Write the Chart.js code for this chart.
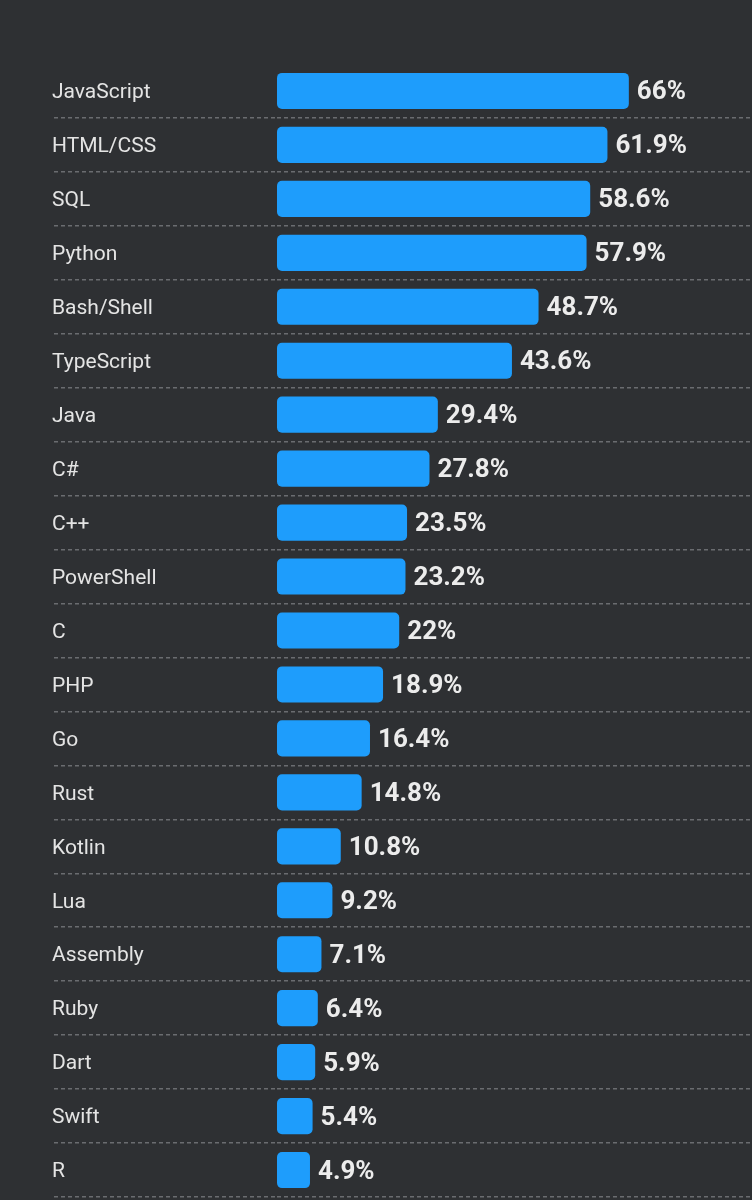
<!DOCTYPE html>
<html>
<head>
<meta charset="utf-8">
<script src="https://cdn.jsdelivr.net/npm/chart.js@4"></script>
<style>
  html, body { margin: 0; padding: 0; background: #2e3033; }
  #wrap { width: 752px; height: 1200px; position: relative; }
</style>
</head>
<body>
<div id="wrap"><canvas id="langChart"></canvas></div>
<script>
// Dữ liệu: ngôn ngữ và tỷ lệ sử dụng (%)
const languages = ['JavaScript', 'HTML/CSS', 'SQL', 'Python', 'Bash/Shell', 'TypeScript', 'Java', 'C#', 'C++',
    'PowerShell', 'C', 'PHP', 'Go', 'Rust', 'Kotlin', 'Lua', 'Assembly', 'Ruby', 'Dart', 'Swift', 'R'];
const shares = [66, 61.9, 58.6, 57.9, 48.7, 43.6, 29.4, 27.8, 23.5, 23.2, 22, 18.9, 16.4, 14.8, 10.8, 9.2, 7.1, 6.4, 5.9, 5.4, 4.9];

const barColor = '#1e9dfc';
const dashColor = '#6a6c70';
const axisMin = -1.42;   // thanh bắt đầu hơi trước 0 (như ảnh gốc)
const axisMax = 89.6;

// Plugin vẽ giá trị ở cuối mỗi thanh
const valueLabels = {
    id: 'valueLabels',
    afterDatasetsDraw(chart) {
        const ctx = chart.ctx;
        const meta = chart.getDatasetMeta(0);
        ctx.save();
        ctx.font = 'bold 26px Roboto';
        ctx.fillStyle = '#ececec';
        ctx.textAlign = 'left';
        ctx.textBaseline = 'middle';
        meta.data.forEach((bar, i) => {
            ctx.fillText(shares[i] + '%', bar.x + 8, bar.y + 2);
        });
        ctx.restore();
    }
};

const gridColor = (c) => c.index === 0 ? 'rgba(0,0,0,0)' : dashColor;

const chart = new Chart(document.getElementById('langChart').getContext('2d'), {
    type: 'bar',
    data: {
        labels: languages,
        datasets: [{
            data: shares,
            base: axisMin,
            backgroundColor: barColor,
            borderRadius: 5,
            borderSkipped: false,
            barPercentage: 0.67,
            categoryPercentage: 1
        }]
    },
    options: {
        indexAxis: 'y',
        responsive: true,
        maintainAspectRatio: false,
        animation: false,
        layout: { padding: { left: 52, top: 64, bottom: 3, right: 0 } },
        plugins: {
            legend: { display: false },
            tooltip: { enabled: false }
        },
        scales: {
            x: {
                display: false,
                min: axisMin,
                max: axisMax
            },
            y: {
                afterFit(scale) {
                    scale.width = 225;
                    scale.paddingTop = 0;
                    scale.paddingBottom = 0;
                },
                grid: {
                    offset: true,
                    color: gridColor,
                    tickColor: gridColor,
                    lineWidth: 1.5,
                    tickWidth: 1.5,
                    tickLength: 223,
                    tickBorderDash: [4, 3]
                },
                border: { display: false, dash: [4, 3] },
                ticks: {
                    crossAlign: 'far',
                    labelOffset: 2,
                    color: '#e4e4e4',
                    font: { family: 'Roboto', size: 21 },
                    autoSkip: false
                }
            }
        }
    },
    plugins: [valueLabels]
});
</script>
</body>
</html>
